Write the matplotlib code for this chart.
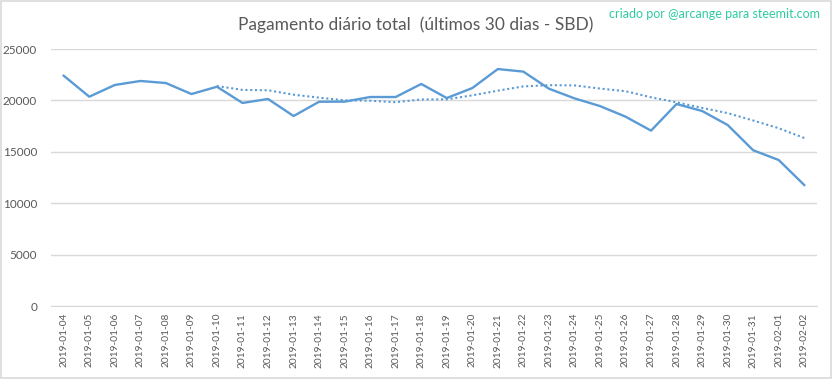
import matplotlib
matplotlib.use("Agg")
import matplotlib.pyplot as plt
from matplotlib import font_manager
import numpy as np
import pandas as pd

dates = ["2019-01-04", "2019-01-05", "2019-01-06", "2019-01-07", "2019-01-08",
         "2019-01-09", "2019-01-10", "2019-01-11", "2019-01-12", "2019-01-13",
         "2019-01-14", "2019-01-15", "2019-01-16", "2019-01-17", "2019-01-18",
         "2019-01-19", "2019-01-20", "2019-01-21", "2019-01-22", "2019-01-23",
         "2019-01-24", "2019-01-25", "2019-01-26", "2019-01-27", "2019-01-28",
         "2019-01-29", "2019-01-30", "2019-01-31", "2019-02-01", "2019-02-02"]
payout = [22400, 20360, 21500, 21890, 21690, 20620, 21330, 19750, 20140, 18480,
          19870, 19880, 20330, 20330, 21600, 20230, 21200, 23050, 22800, 21140,
          20200, 19450, 18420, 17060, 19650, 18970, 17610, 15150, 14200, 11770]
ma_period = 7
yticks = [0, 5000, 10000, 15000, 20000, 25000]

title = "Pagamento diário total  (últimos 30 dias - SBD)"
credit = "criado por @arcange para steemit.com"

plt.rcParams['font.family'] = ['Lato', 'DejaVu Sans']

names = {f.name for f in font_manager.fontManager.ttflist}
xfont = ['Liberation Sans Narrow', 'Lato'] if 'Liberation Sans Narrow' in names else ['Lato']
xsize = 8.5 if 'Liberation Sans Narrow' in names else 7.3

fig = plt.figure(figsize=(8.33, 3.79), dpi=100)
ax = fig.add_axes([0.0612, 0.1926, 0.9196, 0.6781])

x = np.arange(len(dates))
line_color = "#5B9BD5"
ax.plot(x, payout, color=line_color, lw=1.7, solid_joinstyle="round", zorder=3)
ma = pd.Series(payout).rolling(ma_period).mean()
ax.plot(x, ma, color=line_color, lw=1.5, ls=(0, (1, 1.3)), zorder=3)

ax.set_xlim(-0.5, len(dates) - 0.5)
ax.set_ylim(0, 25000)
ax.set_yticks(yticks)
ax.set_yticklabels([str(v) for v in yticks])
ax.set_xticks(x)
ax.set_xticklabels(dates, rotation=90, family=xfont, fontsize=xsize)
ax.grid(axis="y", color="#d9d9d9", lw=1)
ax.set_axisbelow(True)
for s in ["top", "right", "left"]:
    ax.spines[s].set_visible(False)
ax.spines["bottom"].set_color("#d9d9d9")
ax.tick_params(axis="both", length=0, colors="#595959")
ax.tick_params(axis="y", pad=10, labelsize=8.5)
ax.tick_params(axis="x", pad=5)

fig.text(0.499, 0.935, title, ha="center", va="center", fontsize=12.5, color="#595959")
fig.text(0.984, 0.962, credit, ha="right", va="center", fontsize=9, color="#2ECBA0")

border = plt.Rectangle((0.001, 0.002), 0.997, 0.995, transform=fig.transFigure,
                       fill=False, edgecolor="#d9d9d9", lw=1.2)
fig.add_artist(border)

fig.savefig("out.png", dpi=100, facecolor="white")
